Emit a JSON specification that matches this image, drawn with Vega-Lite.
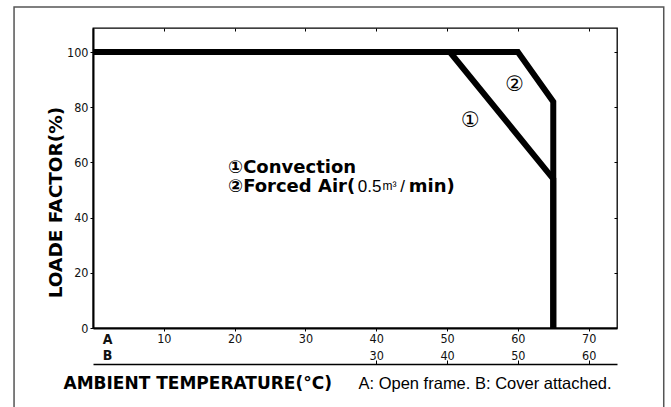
{
  "$schema": "https://vega.github.io/schema/vega-lite/v6.json",
  "width": 524,
  "height": 300,
  "autosize": {"type": "none"},
  "padding": {"left": 93, "top": 28, "right": 54, "bottom": 79},
  "background": "white",
  "config": {
    "view": {"stroke": "black", "strokeWidth": 1.3},
    "axis": {"domainColor": "black", "tickColor": "black", "labelColor": "#111", "titleColor": "#000", "grid": false, "labelFont": "Liberation Sans Narrow, DejaVu Sans Condensed, Liberation Sans, sans-serif", "titleFont": "DejaVu Sans, sans-serif"}
  },
  "datasets": {
    "curves": [
      {"s": "Convection", "o": 1, "x": 0, "y": 100},
      {"s": "Convection", "o": 2, "x": 50.4, "y": 100},
      {"s": "Convection", "o": 3, "x": 65, "y": 54},
      {"s": "Convection", "o": 4, "x": 65, "y": 0},
      {"s": "Forced Air", "o": 1, "x": 0, "y": 100},
      {"s": "Forced Air", "o": 2, "x": 60, "y": 100},
      {"s": "Forced Air", "o": 3, "x": 65, "y": 82},
      {"s": "Forced Air", "o": 4, "x": 65, "y": 0}
    ],
    "boldNotes": [
      {"x": 19.05, "y": 58, "t": "①Convection"},
      {"x": 19.05, "y": 51.1, "t": "②Forced Air("},
      {"x": 44.6, "y": 51.1, "t": "min)"}
    ],
    "regNotes": [
      {"x": 37.4, "y": 51.1, "t": "0.5", "fs": 17},
      {"x": 40.9, "y": 51.6, "t": "m³", "fs": 12},
      {"x": 43.4, "y": 51.1, "t": "/", "fs": 17}
    ],
    "marks": [
      {"x": 59.55, "y": 88, "t": "②"},
      {"x": 53.3, "y": 75.1, "t": "①"}
    ]
  },
  "layer": [
    {
      "data": {"values": [{}]},
      "mark": {"type": "rect", "fill": "white", "fillOpacity": 0, "stroke": "#555", "strokeWidth": 1.5, "clip": false},
      "encoding": {
        "x": {"datum": -11.15, "type": "quantitative", "scale": {"domain": [0, 74], "nice": false, "zero": false}, "axis": null},
        "x2": {"datum": 80.6},
        "y": {"datum": 116.3, "type": "quantitative", "scale": {"domain": [0, 108.7], "nice": false, "zero": false}, "axis": null},
        "y2": {"datum": -36}
      }
    },
    {
      "data": {"name": "curves"},
      "mark": {"type": "line", "color": "black", "strokeWidth": 6, "strokeJoin": "miter", "strokeCap": "butt", "clip": false},
      "encoding": {
        "x": {"field": "x", "type": "quantitative", "scale": {"domain": [0, 74], "nice": false, "zero": false},
          "axis": {
            "orient": "bottom", "values": [2, 10, 20, 30, 40, 50, 60, 70], "tickSize": 3, "domainWidth": 2,
            "tickOpacity": {"condition": {"test": "datum.value < 5", "value": 0}, "value": 1},
            "labelExpr": "datum.value < 5 ? 'A' : datum.label",
            "labelFontSize": {"condition": {"test": "datum.value < 5", "value": 14}, "value": 12.5},
            "labelFontWeight": {"condition": {"test": "datum.value < 5", "value": "bold"}, "value": "normal"},
            "labelPadding": 1, "labelFlush": false, "labelOverlap": false,
            "title": "AMBIENT TEMPERATURE(°C)", "titleFontSize": 17, "titleFontWeight": "bold",
            "titleX": -30, "titleY": 60, "titleAlign": "left", "titleBaseline": "alphabetic", "titleAnchor": "start"
          }},
        "y": {"field": "y", "type": "quantitative", "scale": {"domain": [0, 108.7], "nice": false, "zero": false},
          "axis": {
            "orient": "left", "values": [0, 20, 40, 60, 80, 100], "tickSize": 3, "domainWidth": 2,
            "labelPadding": 2, "labelFontSize": 12.5, "labelFlush": false,
            "title": "LOADE FACTOR(%)", "titleFontSize": 18.5, "titleFontWeight": "bold",
            "titleAngle": -90, "titleX": -38, "titleY": 174, "titleAlign": "center", "titleBaseline": "middle"
          }},
        "detail": {"field": "s"},
        "order": {"field": "o"}
      }
    },
    {
      "data": {"name": "boldNotes"},
      "mark": {"type": "text", "align": "left", "baseline": "middle", "fontSize": 18, "fontWeight": "bold", "font": "DejaVu Sans, sans-serif", "color": "black"},
      "encoding": {
        "x": {"field": "x", "type": "quantitative", "scale": {"domain": [0, 74], "nice": false, "zero": false}, "axis": null},
        "y": {"field": "y", "type": "quantitative", "scale": {"domain": [0, 108.7], "nice": false, "zero": false}, "axis": null},
        "text": {"field": "t"}
      }
    },
    {
      "data": {"name": "regNotes"},
      "mark": {"type": "text", "align": "left", "baseline": "middle", "font": "Liberation Sans, sans-serif", "color": "black"},
      "encoding": {
        "x": {"field": "x", "type": "quantitative", "scale": {"domain": [0, 74], "nice": false, "zero": false}, "axis": null},
        "y": {"field": "y", "type": "quantitative", "scale": {"domain": [0, 108.7], "nice": false, "zero": false}, "axis": null},
        "size": {"field": "fs", "type": "quantitative", "scale": null},
        "text": {"field": "t"}
      }
    },
    {
      "data": {"name": "marks"},
      "mark": {"type": "text", "align": "center", "baseline": "middle", "fontSize": 21, "font": "DejaVu Sans, sans-serif", "color": "black"},
      "encoding": {
        "x": {"field": "x", "type": "quantitative", "scale": {"domain": [0, 74], "nice": false, "zero": false}, "axis": null},
        "y": {"field": "y", "type": "quantitative", "scale": {"domain": [0, 108.7], "nice": false, "zero": false}, "axis": null},
        "text": {"field": "t"}
      }
    },
    {
      "mark": {"type": "point", "opacity": 0},
      "encoding": {
        "x": {"datum": 30, "type": "quantitative", "scale": {"domain": [-10, 64], "nice": false, "zero": false},
          "axis": {
            "orient": "bottom", "offset": 36, "values": [-8, 30, 40, 50, 60], "tickSize": -4, "domainWidth": 1.5,
            "tickOpacity": {"condition": {"test": "datum.value < 0", "value": 0}, "value": 1},
            "labelExpr": "datum.value < 0 ? 'B' : datum.label",
            "labelFontSize": {"condition": {"test": "datum.value < 0", "value": 14}, "value": 12.5},
            "labelFontWeight": {"condition": {"test": "datum.value < 0", "value": "bold"}, "value": "normal"},
            "labelBaseline": "middle", "labelPadding": -5, "labelFlush": false, "labelOverlap": false,
            "title": "A: Open frame. B: Cover attached.", "titleFont": "Liberation Sans, sans-serif", "titleFontSize": 16.5, "titleFontWeight": "normal",
            "titleX": 265, "titleY": 24, "titleAlign": "left", "titleBaseline": "alphabetic", "titleAnchor": "start"
          }},
        "y": {"datum": 50, "type": "quantitative", "scale": {"domain": [0, 108.7], "nice": false, "zero": false}, "axis": null}
      }
    },
    {
      "mark": {"type": "point", "opacity": 0},
      "encoding": {
        "x": {"datum": 30, "type": "quantitative", "scale": {"domain": [0, 74], "nice": false, "zero": false},
          "axis": {"orient": "top", "values": [10, 20, 30, 40, 50, 60, 70], "tickSize": -3, "labels": false, "domain": false, "title": null}},
        "y": {"datum": 50, "type": "quantitative", "scale": {"domain": [0, 108.7], "nice": false, "zero": false},
          "axis": {"orient": "right", "values": [20, 40, 60, 80, 100], "tickSize": -3, "labels": false, "domain": false, "title": null}}
      }
    }
  ],
  "resolve": {"scale": {"x": "independent", "y": "independent"}, "axis": {"x": "independent", "y": "independent"}}
}
